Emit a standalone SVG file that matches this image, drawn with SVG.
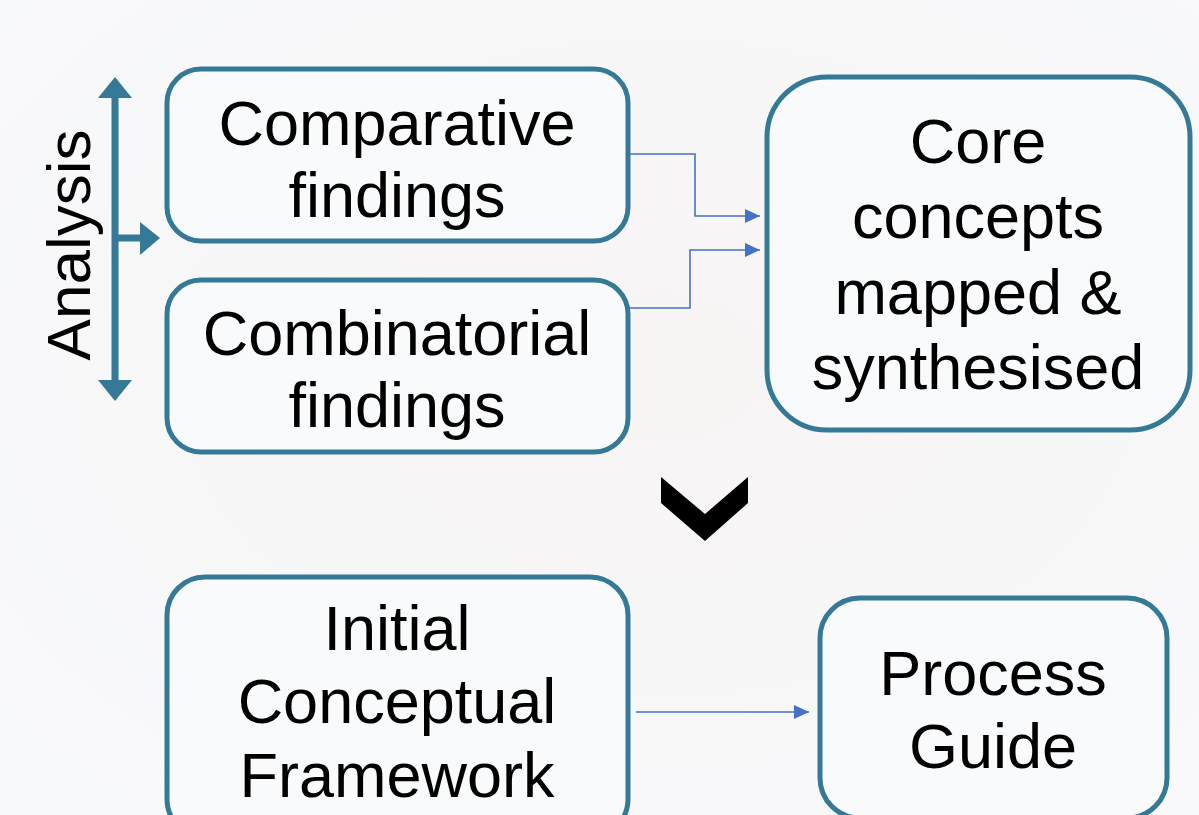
<svg xmlns="http://www.w3.org/2000/svg" width="1199" height="815" viewBox="0 0 1199 815">
<defs>
<style>
.box{fill:#f9fafb;stroke:#347996;stroke-width:5}
.t{font-family:"Liberation Sans",Arial,sans-serif;font-size:63px;fill:#000;text-anchor:middle}
.c{fill:none;stroke:#4472c4;stroke-width:1.6}
</style>
<marker id="ah" markerWidth="15" markerHeight="14" refX="15" refY="7" orient="auto" markerUnits="userSpaceOnUse" viewBox="0 0 15 14">
<path d="M0,0 L15,7 L0,14 Z" fill="#4472c4"/>
</marker>
<radialGradient id="bg" cx="0.55" cy="0.45" r="0.7">
<stop offset="0" stop-color="#f7f4f4"/>
<stop offset="1" stop-color="#f8f9fb"/>
</radialGradient>
</defs>
<rect width="1199" height="815" fill="url(#bg)"/>
<g id="analysis">
<line x1="115" y1="92" x2="115" y2="386" stroke="#347996" stroke-width="7"/>
<polygon points="98,98 115,77 132,98" fill="#347996"/>
<polygon points="98,380 115,401 132,380" fill="#347996"/>
<line x1="115" y1="238" x2="144" y2="238" stroke="#347996" stroke-width="7"/>
<polygon points="140,222 160,238 140,255" fill="#347996"/>
<text class="t" transform="translate(90,245) rotate(-90)" style="font-size:62px">Analysis</text>
</g>
<g id="connectors">
<polyline class="c" points="628,154 695,154 695,216 760,216" marker-end="url(#ah)"/>
<polyline class="c" points="620,308 690,308 690,250 760,250" marker-end="url(#ah)"/>
<polyline class="c" points="636,712 809,712" marker-end="url(#ah)"/>
</g>
<g id="comparative">
<rect class="box" x="167" y="69" width="461" height="172" rx="34"/>
<text class="t" x="397" y="145">Comparative</text>
<text class="t" x="397" y="217">findings</text>
</g>
<g id="combinatorial">
<rect class="box" x="167" y="280" width="461" height="172" rx="34"/>
<text class="t" x="397" y="355">Combinatorial</text>
<text class="t" x="397" y="427">findings</text>
</g>
<g id="core">
<rect class="box" x="767" y="77" width="423" height="353" rx="60"/>
<text class="t" x="978" y="163">Core</text>
<text class="t" x="978" y="238">concepts</text>
<text class="t" x="978" y="314">mapped &amp;</text>
<text class="t" x="978" y="389">synthesised</text>
</g>
<g id="chevron">
<polygon points="661,477 705,514 748,477 748,503 705,541 661,503" fill="#000"/>
</g>
<g id="initial">
<rect class="box" x="167" y="577" width="461" height="260" rx="38"/>
<text class="t" x="397" y="650">Initial</text>
<text class="t" x="397" y="723">Conceptual</text>
<text class="t" x="397" y="797">Framework</text>
</g>
<g id="process">
<rect class="box" x="820" y="598" width="347" height="220" rx="40"/>
<text class="t" x="993" y="695">Process</text>
<text class="t" x="993" y="768">Guide</text>
</g>
</svg>
